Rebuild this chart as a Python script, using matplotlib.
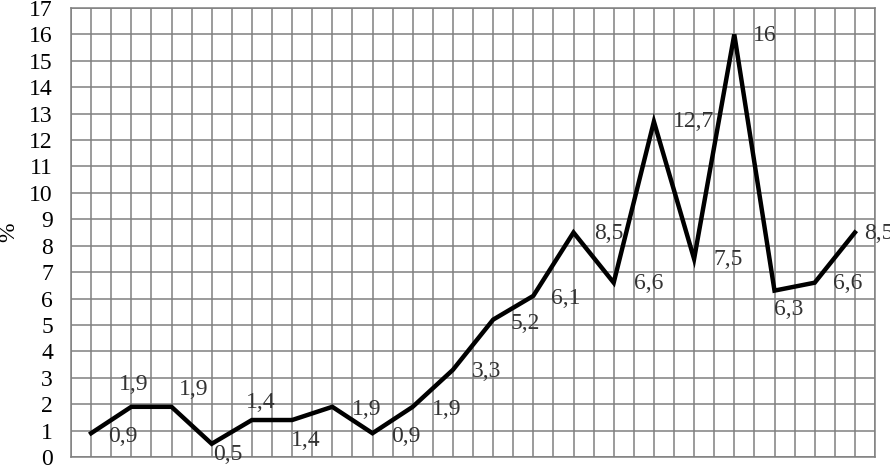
import matplotlib.pyplot as plt

# values
values = [0.9, 1.9, 1.9, 0.5, 1.4, 1.4, 1.9, 0.9, 1.9, 3.3,
          5.2, 6.1, 8.5, 6.6, 12.7, 7.5, 16, 6.3, 6.6, 8.5]
labels = [str(v).replace('.', ',') for v in values]
labels[16] = '16'
y_ticks = list(range(0, 18))

# label offsets in pixels (dx, dy)
offsets = [(32, -3), (2, 22), (22, 17), (16, -11), (9, 18), (14, -20),
           (34, -3), (33, -3), (34, -3), (34, -2), (32, -4), (32, -3),
           (35, -1), (35, -1), (40, 0), (34, -1), (30, -1), (14, -19),
           (33, -1), (24, -1)]

plt.rcParams['font.family'] = 'Liberation Serif'

fig = plt.figure(figsize=(8.9, 4.66), dpi=100)
ax = fig.add_axes([71 / 890, 9 / 466, 804 / 890, 449 / 466])

x = [2 * i + 1 for i in range(len(values))]
ax.plot(x, values, color='black', linewidth=3.2, solid_joinstyle='miter', zorder=3)

for xi, v, lab, (dx, dy) in zip(x, values, labels, offsets):
    ax.annotate(lab, (xi, v), xytext=(dx, dy), textcoords='offset pixels',
                ha='center', va='center', fontsize=17, color='#333333',
                annotation_clip=False)

ax.set_xlim(0, 40)
ax.set_ylim(0, 17)
ax.set_xticks(range(0, 41))
ax.set_yticks(y_ticks)
ax.set_yticklabels([str(t) for t in y_ticks], fontsize=17)
ax.tick_params(axis='x', length=0, labelbottom=False)
ax.tick_params(axis='y', length=0, pad=13)
ax.grid(True, color='#808080', linewidth=1.1)
for s in ax.spines.values():
    s.set_color('#808080')
    s.set_linewidth(1.1)
ax.set_axisbelow(True)
ax.set_ylabel('%', fontsize=17, labelpad=7)

fig.savefig('out.png', dpi=100)
